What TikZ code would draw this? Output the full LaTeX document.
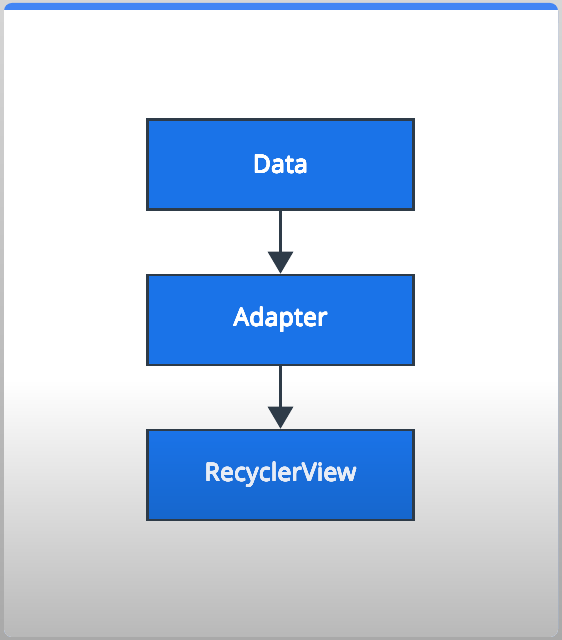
\documentclass[tikz,border=0pt]{standalone}
\usepackage{fontspec}
\setmainfont{Open Sans}[LetterSpace=1.5]
\usepackage[copies]{contour}
\contournumber{16}
\contourlength{0.4pt}
\usetikzlibrary{arrows.meta}
\definecolor{boxblue}{HTML}{1A73E8}
\definecolor{boxblue2}{HTML}{1666CC}
\definecolor{edge}{HTML}{2E3B48}
\definecolor{topblue}{HTML}{4285F4}
\definecolor{fadegray}{HTML}{B8B8B8}
\definecolor{outgray}{HTML}{A9A9A9}
\definecolor{outlight}{HTML}{D6D6D6}
\definecolor{paletext}{HTML}{E6ECF6}
\tikzset{
  flowbox/.style={draw=edge, line width=2.5pt, fill=boxblue, minimum width=266pt, minimum height=90pt,
    inner sep=0pt, text=white, font=\fontsize{24.5}{28}\selectfont},
  flowarrow/.style={draw=edge, line width=3pt, -{Triangle[width=25pt,length=22pt]}}
}
\begin{document}
\begin{tikzpicture}[x=1pt,y=1pt]
\useasboundingbox (0,0) rectangle (562,640);
\shade[top color=outlight, bottom color=outgray] (0,0) rectangle (562,640);
% card
\fill[topblue, rounded corners=8] (4,3) rectangle (558,637);
\fill[white, rounded corners=8] (4,3) rectangle (558,625);
\fill[white] (4,610) rectangle (558,630);
\begin{scope}
\clip[rounded corners=8] (4,3) rectangle (558,637);
\shade[top color=white, bottom color=fadegray] (4,3) rectangle (558,260);
\end{scope}
% boxes
\node[flowbox] (data) at (280.5,475.5) {\contour{white}{Data}};
\node[flowbox] (adapter) at (280.5,320) {\contour{white}{Adapter}};
\node[flowbox, top color=boxblue, bottom color=boxblue2, text=paletext] (rv) at (280.5,165) {\contour{paletext}{RecyclerView}};
\draw[flowarrow] (data.south) -- (adapter.north);
\draw[flowarrow] (adapter.south) -- (rv.north);
\end{tikzpicture}
\end{document}
